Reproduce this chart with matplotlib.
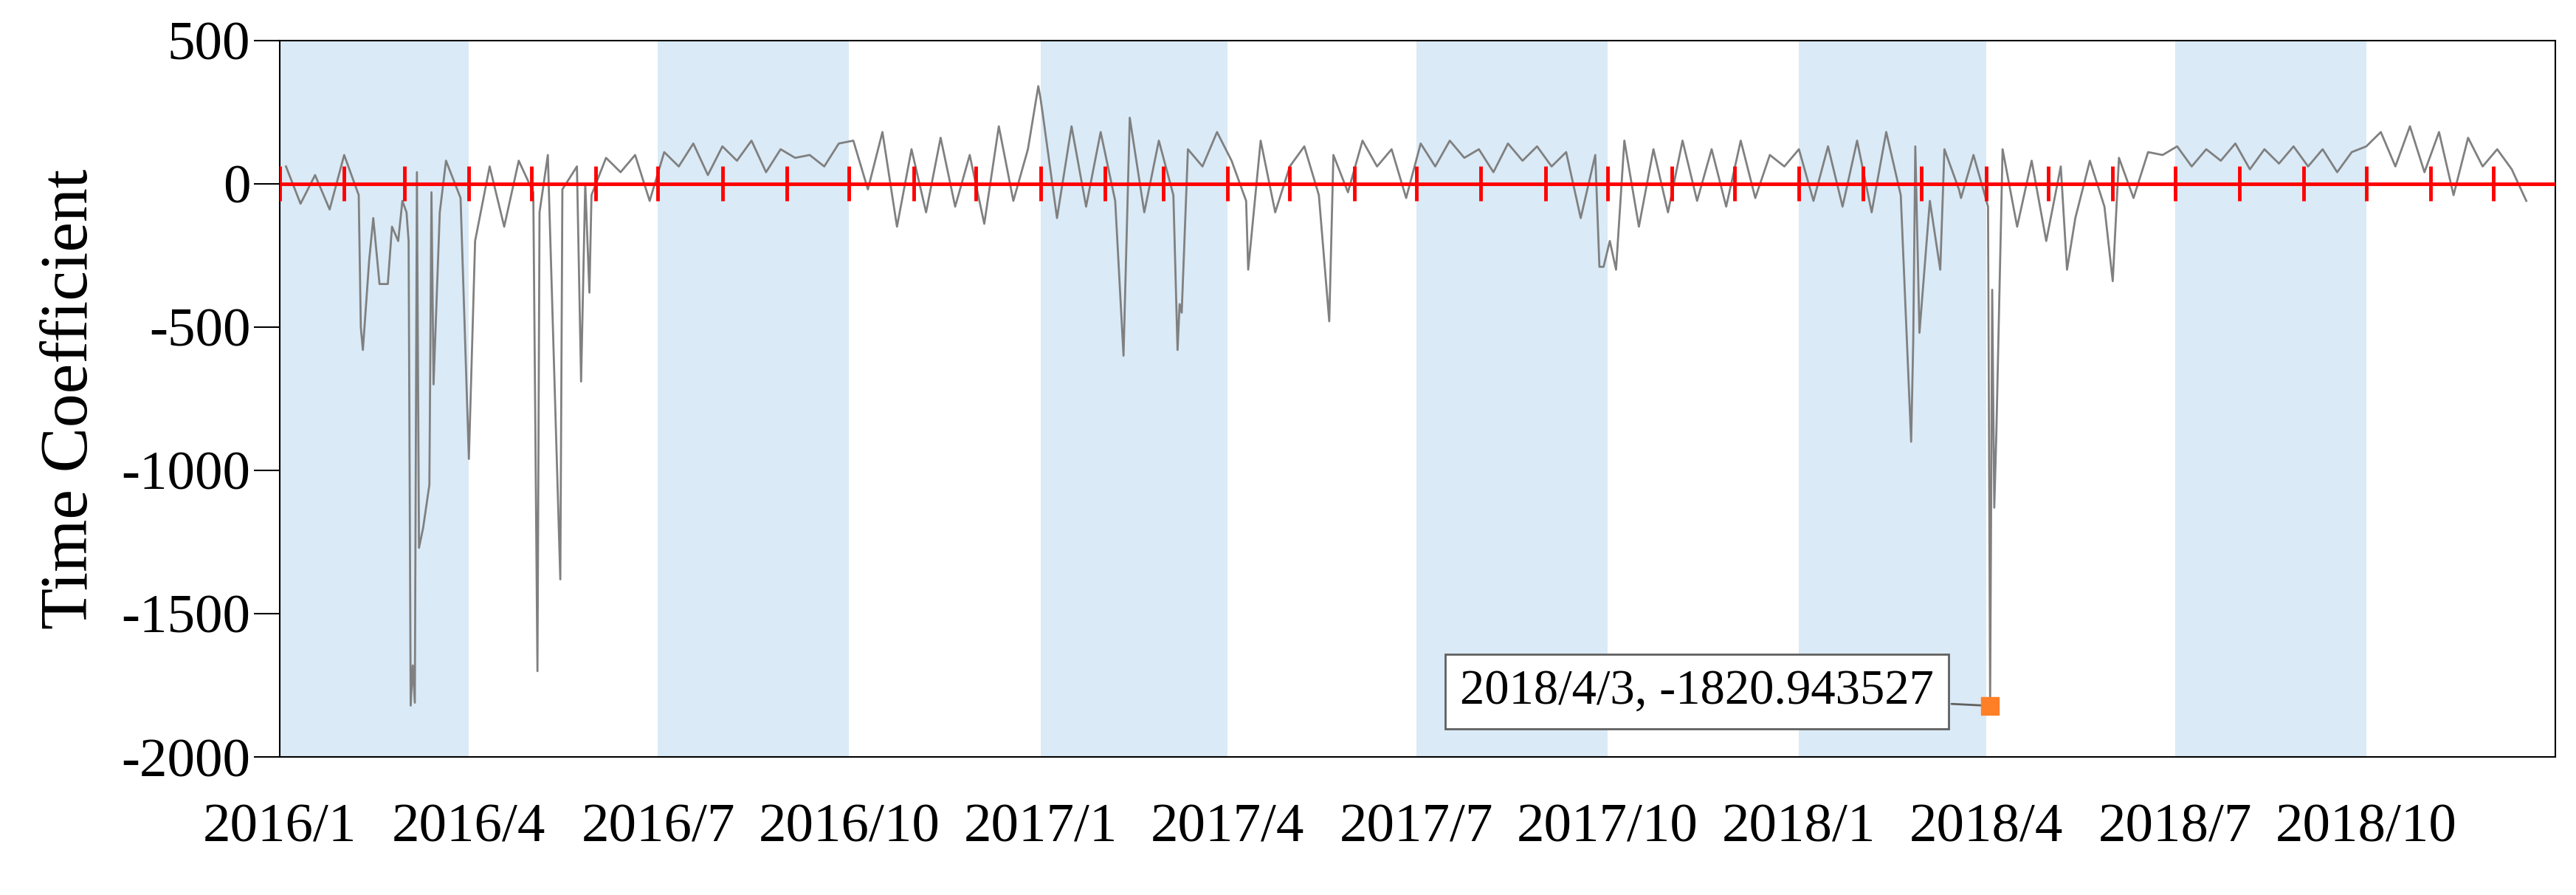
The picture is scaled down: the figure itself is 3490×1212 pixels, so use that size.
import matplotlib
matplotlib.use("Agg")
import matplotlib.pyplot as plt
import pandas as pd

# weekly baseline values (2016-01-04 onward)
base_2016 = [60, -70, 30, -90, 100, -40, -120, 20, -60, 40, -30, 80, -50,
             -200, 60, -150, 80, -30, 100, -20, 60, -40, 90, 40, 100, -60,
             110, 60, 140, 30, 130, 80, 150, 40, 120, 90, 100, 60, 140,
             150, -20, 180, -150, 120, -100, 160, -80, 100, -140, 200, -60, 120]
base_2017 = [250, -120, 200, -80, 180, -60, 230, -100, 150, -40, 120, 60, 180,
             80, -60, 150, -100, 60, 130, -40, 100, -30, 150, 60, 120, -50,
             140, 60, 150, 90, 120, 40, 140, 80, 130, 60, 110, -120, 100,
             -200, 150, -150, 120, -100, 150, -60, 120, -80, 150, -50, 100, 60]
base_2018 = [120, -60, 130, -80, 150, -100, 180, -40, 130, -60, 120, -20, 100,
             -80, 120, -150, 80, -200, 60, -120, 80, -80, 90, -50, 110, 100,
             130, 60, 120, 80, 140, 50, 120, 70, 130, 60, 120, 40,
             110, 130, 180, 60, 200, 40, 180, -40, 160, 60, 120, 50, -60]

# sharp drops / peaks
spike_dates = ["2016-02-08", "2016-02-09", "2016-02-10", "2016-02-13", "2016-02-18", "2016-02-22",
               "2016-02-24", "2016-02-27", "2016-03-02", "2016-03-03", "2016-03-04", "2016-03-05",
               "2016-03-06", "2016-03-08", "2016-03-10", "2016-03-13", "2016-03-15", "2016-03-18",
               "2016-04-01", "2016-05-04", "2016-05-05", "2016-05-15", "2016-05-16", "2016-05-25",
               "2016-05-27", "2016-05-29", "2016-12-31", "2017-01-01", "2017-02-10", "2017-03-08",
               "2017-03-09", "2017-03-10", "2017-04-10", "2017-04-11", "2017-05-20", "2017-09-27",
               "2017-09-29", "2017-10-05", "2018-02-24", "2018-02-25", "2018-02-28", "2018-03-10",
               "2018-03-20", "2018-04-02", "2018-04-03", "2018-04-04", "2018-04-05", "2018-04-06",
               "2018-05-10", "2018-06-01"]
spike_values = [90, -500, -580, -270, -350, -350,
                -150, -200, -100, -200, -1820, -1680,
                -1810, -1270, -1200, -1050, -700, -100,
                -960, -1700, -100, -1380, -150, -690,
                0, -380, 340, 300, -600, -580,
                -420, -450, -650, -300, -480, -290,
                -290, -300, -900, -550, -520, -300,
                -50, -100, -1820.943527, -370, -1130, -870,
                -300, -340]

min_date, min_value = "2018-04-03", -1820.943527
shade_starts = ["2016-01-01", "2016-07-01", "2017-01-01", "2017-07-01", "2018-01-01", "2018-07-01"]
shade_ends = ["2016-04-01", "2016-10-01", "2017-04-01", "2017-10-01", "2018-04-01", "2018-10-01"]
tick_labels = ["2016/1", "2016/4", "2016/7", "2016/10", "2017/1", "2017/4", "2017/7",
               "2017/10", "2018/1", "2018/4", "2018/7", "2018/10"]

base = base_2016 + base_2017 + base_2018
s = pd.concat([
    pd.Series(base, index=pd.date_range("2016-01-04", periods=len(base), freq="7D")),
    pd.Series(spike_values, index=pd.to_datetime(spike_dates)),
]).sort_index()
s = s[~s.index.duplicated(keep="last")]

plt.rcParams["font.family"] = ["Liberation Serif", "DejaVu Serif"]
fig = plt.figure(figsize=(34.9, 12.12), dpi=100)
ax = fig.add_axes([0.1086, 0.154, 0.8834, 0.801])

for a, b in zip(shade_starts, shade_ends):
    ax.axvspan(pd.Timestamp(a), pd.Timestamp(b), color="#daeaf6", lw=0, zorder=0)

ax.plot(s.index, s.values, color="#808080", lw=2, zorder=2)

x0, x1 = pd.Timestamp("2016-01-01"), pd.Timestamp("2018-12-31")
ax.plot([x0, x1], [0, 0], color="red", lw=3.5, zorder=3)
months = pd.date_range("2016-01-01", "2018-12-01", freq="MS")
ax.vlines(months, -60, 60, color="red", lw=3.5, zorder=3)

ax.plot([pd.Timestamp(min_date)], [min_value], "s", color="#ff7f27", ms=17, zorder=6)
ax.annotate(f"2018/4/3, {min_value:.6f}", xy=(pd.Timestamp(min_date), min_value),
            xytext=(pd.Timestamp("2017-07-22"), -1770), fontsize=48, va="center",
            bbox=dict(boxstyle="square,pad=0.3", fc="white", ec="#606060", lw=2),
            arrowprops=dict(arrowstyle="-", color="#606060", lw=2), zorder=5)

ax.set_xlim(x0, x1)
ax.set_ylim(-2000, 500)
ax.set_yticks([500, 0, -500, -1000, -1500, -2000])
ax.set_yticklabels(["500", "0", "-500", "-1000", "-1500", "-2000"])
ax.set_xticks(pd.to_datetime([f"{l.replace('/', '-')}-01" for l in tick_labels]))
ax.set_xticklabels(tick_labels)
ax.tick_params(axis="y", labelsize=54, length=25, width=1.5)
ax.tick_params(axis="x", labelsize=54, length=0, pad=45)
ax.set_ylabel("Time Coefficient", fontsize=66, labelpad=20)
for sp in ax.spines.values():
    sp.set_linewidth(1.5)

fig.savefig("out.png", dpi=100)
